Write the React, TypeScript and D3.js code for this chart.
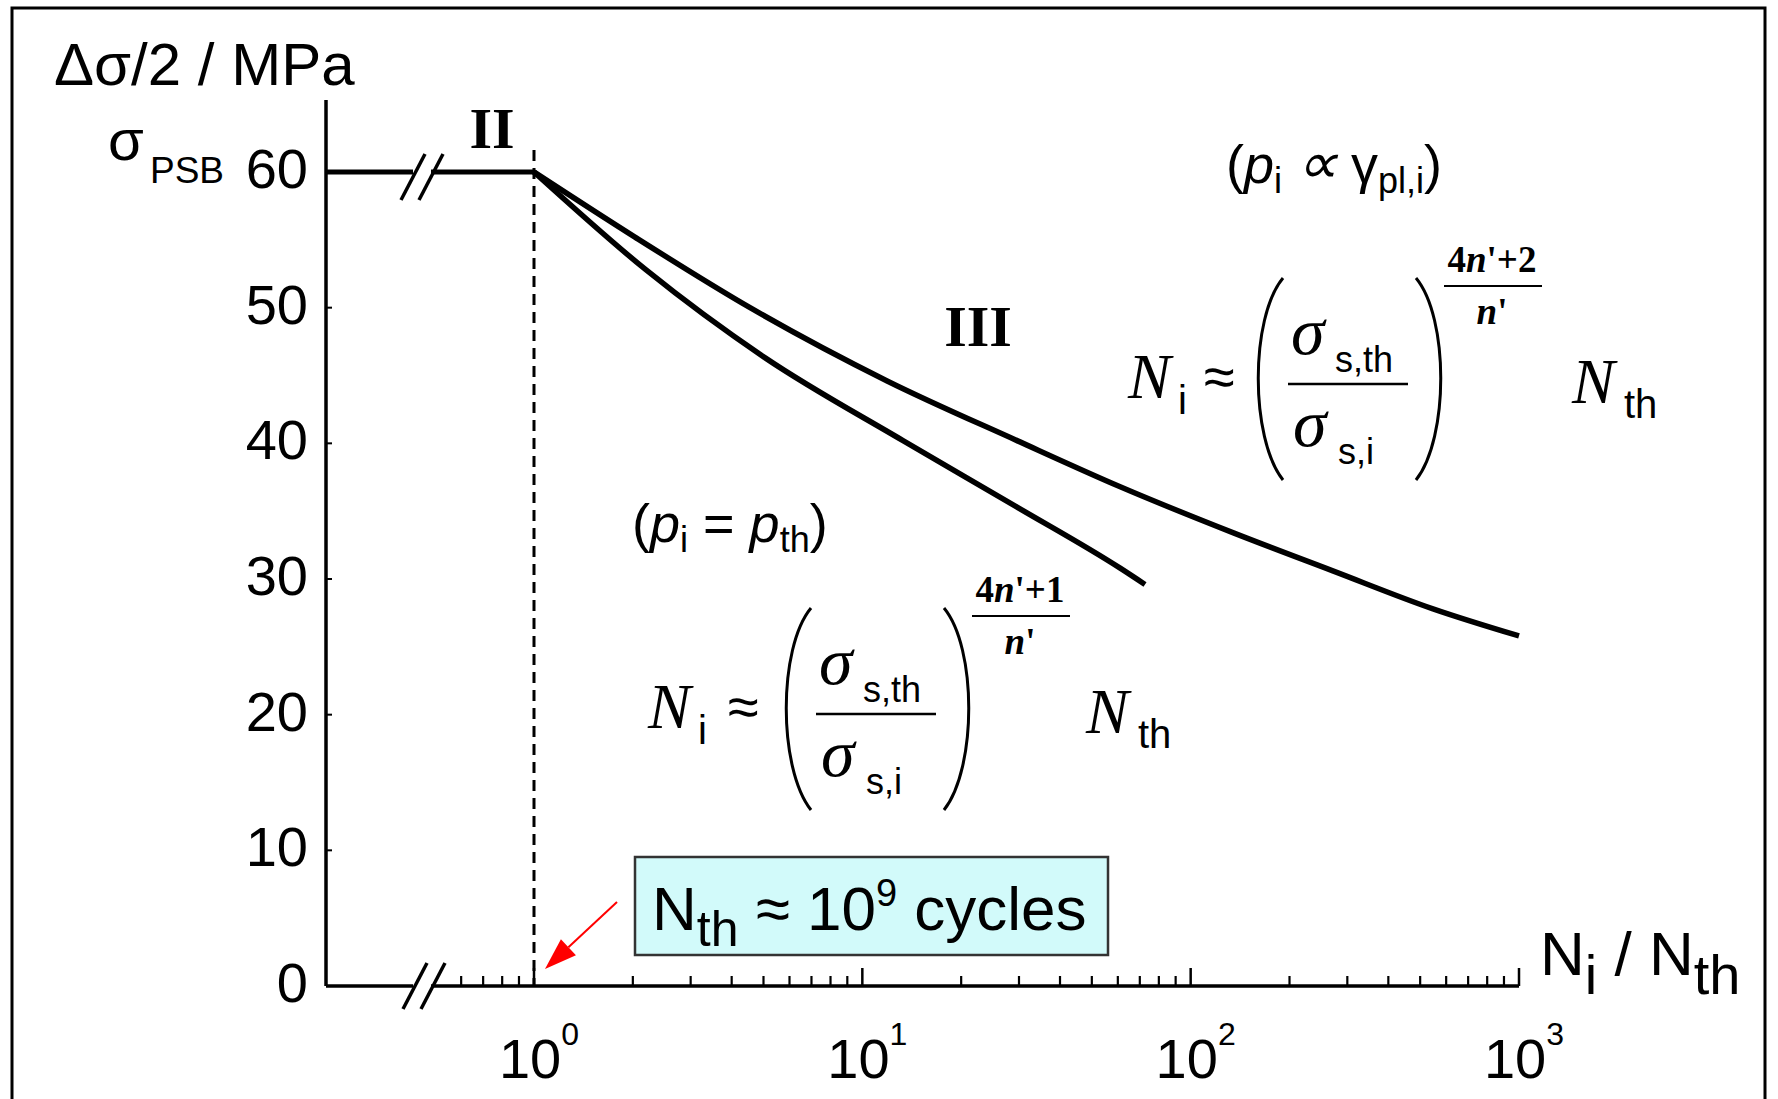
import * as d3 from 'd3';

const W = 1778;
const H = 1099;

const SANS = "'Liberation Sans', Arial, Helvetica, sans-serif";
const SERIF = "'Liberation Serif', 'Times New Roman', Times, serif";

// stress amplitude axis (MPa)
const stressTicks = [0, 10, 20, 30, 40, 50, 60];
const plateauStress = 60;

// N_i / N_th axis
const decades = [1, 10, 100, 1000];
const decadeExponents = ['0', '1', '2', '3'];
const preBreakTicks = [0.6, 0.7, 0.8, 0.9];

// curve for p_i ∝ γpl,i, exponent (4n'+2)/n'
const upperN = [1, 2.03, 4.55, 11.9, 29.6, 61, 135, 271, 547, 1000];
const upperStress = [60, 55.2, 50.0, 44.6, 40.2, 36.8, 33.4, 30.6, 27.8, 25.8];

// curve for p_i = p_th, exponent (4n'+1)/n'
const lowerN = [1, 2.19, 5.06, 13.3, 29.6, 61, 72.6];
const lowerStress = [60, 52.8, 46.3, 40.2, 35.3, 30.8, 29.6];

const x = d3.scaleLog().domain([1, 1000]).range([534, 1519]);
const y = d3.scaleLinear().domain([0, 60]).range([986, 172]);
const axisX = 326;
const axisTop = 100;
const breakX = 422;

const line = d3
  .line<[number, number]>()
  .x((d) => x(d[0]))
  .y((d) => y(d[1]))
  .curve(d3.curveMonotoneX);

function BreakMark({ cx, cy }: { cx: number; cy: number }) {
  return (
    <g stroke="black" strokeWidth={3.5}>
      {[-9, 9].map((o) => (
        <line key={o} x1={cx + o - 12} y1={cy + 23} x2={cx + o + 12} y2={cy - 23} />
      ))}
    </g>
  );
}

function Formula({
  x: fx,
  y: fy,
  top,
  shift = 0,
  nthShift = 0,
}: {
  x: number;
  y: number;
  top: string;
  shift?: number;
  nthShift?: number;
}) {
  const s = shift;
  return (
    <g transform={`translate(${fx},${fy})`}>
      <text fontFamily={SERIF} fontStyle="italic" fontSize={64} x={0} y={0}>N</text>
      <text fontFamily={SANS} fontSize={40} x={50} y={16}>i</text>
      <text fontFamily={SANS} fontSize={56} x={76 + s / 2} y={-2}>≈</text>
      <path d={`M${155 + s},-120 C${122 + s},-80 ${122 + s},40 ${155 + s},82`} fill="none" stroke="black" strokeWidth={3} />
      <text fontFamily={SERIF} fontStyle="italic" fontSize={68} x={163 + s} y={-44}>σ</text>
      <text fontFamily={SANS} fontSize={36} x={207 + s} y={-26}>s,th</text>
      <line x1={160 + s} x2={280 + s} y1={-14} y2={-14} stroke="black" strokeWidth={2.5} />
      <text fontFamily={SERIF} fontStyle="italic" fontSize={68} x={165 + s} y={48}>σ</text>
      <text fontFamily={SANS} fontSize={36} x={210 + s} y={66}>s,i</text>
      <path d={`M${288 + s},-120 C${321 + s},-80 ${321 + s},40 ${288 + s},82`} fill="none" stroke="black" strokeWidth={3} />
      <text fontFamily={SERIF} fontWeight="bold" fontSize={37} x={364 + s} y={-126} textAnchor="middle">
        4<tspan fontStyle="italic">n</tspan>'+{top}
      </text>
      <line x1={316 + s} x2={414 + s} y1={-112} y2={-112} stroke="black" strokeWidth={2} />
      <text fontFamily={SERIF} fontWeight="bold" fontSize={37} x={364 + s} y={-74} textAnchor="middle">
        <tspan fontStyle="italic">n</tspan>'
      </text>
      <text fontFamily={SERIF} fontStyle="italic" fontSize={64} x={444 + nthShift} y={5}>N</text>
      <text fontFamily={SANS} fontSize={40} x={496 + nthShift} y={20}>th</text>
    </g>
  );
}

function Arrow({ x1, y1, x2, y2 }: { x1: number; y1: number; x2: number; y2: number }) {
  const dx = x2 - x1;
  const dy = y2 - y1;
  const len = Math.hypot(dx, dy);
  const ux = dx / len;
  const uy = dy / len;
  const hl = 32;
  const hw = 11;
  const bx = x2 - ux * hl;
  const by = y2 - uy * hl;
  const pts = `${x2},${y2} ${bx - uy * hw},${by + ux * hw} ${bx + uy * hw},${by - ux * hw}`;
  return (
    <g>
      <line x1={x1} y1={y1} x2={bx} y2={by} stroke="red" strokeWidth={2} />
      <polygon points={pts} fill="red" />
    </g>
  );
}

export default function App() {
  const y0 = y(0);
  const minorTicks = x.ticks().filter((t) => !decades.includes(t));
  const upper = upperN.map((n, i) => [n, upperStress[i]] as [number, number]);
  const lower = lowerN.map((n, i) => [n, lowerStress[i]] as [number, number]);

  return (
    <svg
      width={W}
      height={H}
      viewBox={`0 0 ${W} ${H}`}
      style={{ position: 'absolute', left: 0, top: 0, background: 'white' }}
    >
      <rect x={12} y={8} width={1753} height={1110} fill="white" stroke="black" strokeWidth={3} />

      {/* y axis */}
      <text fontFamily={SANS} fontSize={60} x={54} y={85}>Δσ/2 / MPa</text>
      <line x1={axisX} x2={axisX} y1={axisTop} y2={y0} stroke="black" strokeWidth={3.5} />
      {stressTicks.map((t) => (
        <g key={t}>
          <text fontFamily={SANS} fontSize={56} x={308} y={y(t) + 16} textAnchor="end">{t}</text>
          {t > 0 && t < 60 && <line x1={axisX} x2={axisX + 6} y1={y(t)} y2={y(t)} stroke="black" strokeWidth={2} />}
        </g>
      ))}
      <text fontFamily={SANS} fontSize={58} x={108} y={160}>σ</text>
      <text fontFamily={SANS} fontSize={37} x={150} y={183}>PSB</text>

      {/* plateau (stage II) with axis break */}
      <line x1={axisX} x2={breakX - 9} y1={y(plateauStress)} y2={y(plateauStress)} stroke="black" strokeWidth={5} />
      <line x1={breakX + 9} x2={x(1)} y1={y(plateauStress)} y2={y(plateauStress)} stroke="black" strokeWidth={5} />
      <BreakMark cx={breakX} cy={y(plateauStress) + 5} />

      {/* x axis */}
      <line x1={axisX} x2={breakX - 9} y1={y0} y2={y0} stroke="black" strokeWidth={3.5} />
      <line x1={breakX + 9} x2={x(1000)} y1={y0} y2={y0} stroke="black" strokeWidth={3.5} />
      <BreakMark cx={breakX + 2} cy={y0} />
      {decades.map((d) => (
        <line key={d} x1={x(d)} x2={x(d)} y1={y0} y2={y0 - 18} stroke="black" strokeWidth={2.5} />
      ))}
      {[...preBreakTicks, ...minorTicks].map((t) => (
        <line key={t} x1={x(t)} x2={x(t)} y1={y0} y2={y0 - 10} stroke="black" strokeWidth={2.2} />
      ))}
      {decades.map((d, i) => (
        <text key={d} fontFamily={SANS} fontSize={56} x={x(d) + 5} y={1078} textAnchor="middle">
          10<tspan fontSize={32} dy={-33}>{decadeExponents[i]}</tspan>
        </text>
      ))}
      <text fontFamily={SANS} fontSize={62} x={1540} y={975}>
        N<tspan fontSize={56} dy={19}>i</tspan>
        <tspan dy={-19}> / N</tspan>
        <tspan fontSize={56} dy={19}>th</tspan>
      </text>

      {/* N = N_th threshold */}
      <line x1={x(1)} x2={x(1)} y1={150} y2={y0} stroke="black" strokeWidth={3} strokeDasharray="11 7" />

      {/* curves */}
      <path d={line(upper) ?? ''} fill="none" stroke="black" strokeWidth={5.5} strokeLinejoin="round" />
      <path d={line(lower) ?? ''} fill="none" stroke="black" strokeWidth={5.5} strokeLinejoin="round" />

      {/* stage labels */}
      <text fontFamily={SERIF} fontWeight="bold" fontSize={58} x={492} y={148} textAnchor="middle">II</text>
      <text fontFamily={SERIF} fontWeight="bold" fontSize={58} x={978} y={346} textAnchor="middle">III</text>

      {/* annotations */}
      <text fontFamily={SANS} fontSize={54} x={1226} y={183}>
        (<tspan fontStyle="italic">p</tspan>
        <tspan fontSize={36} dy={10}>i</tspan>
        <tspan dy={-10} dx={14} fontSize={58} fontStyle="italic">∝</tspan>
        <tspan dx={14}>γ</tspan>
        <tspan fontSize={36} dy={10}>pl,i</tspan>
        <tspan dy={-10}>)</tspan>
      </text>
      <Formula x={1128} y={398} top="2" />

      <text fontFamily={SANS} fontSize={54} x={632} y={542}>
        (<tspan fontStyle="italic">p</tspan>
        <tspan fontSize={36} dy={10}>i</tspan>
        <tspan dy={-10}> = </tspan>
        <tspan fontStyle="italic">p</tspan>
        <tspan fontSize={36} dy={10}>th</tspan>
        <tspan dy={-10}>)</tspan>
      </text>
      <Formula x={648} y={728} top="1" shift={8} nthShift={-6} />

      {/* threshold box */}
      <rect x={635} y={857} width={473} height={98} fill="#d2fafa" stroke="#333" strokeWidth={2.5} />
      <text fontFamily={SANS} fontSize={62} x={652} y={930}>
        N<tspan fontSize={50} dy={16}>th</tspan>
        <tspan dy={-16}> ≈ 10</tspan>
        <tspan fontSize={38} dy={-24}>9</tspan>
        <tspan dy={24}> cycles</tspan>
      </text>
      <Arrow x1={617} y1={902} x2={545} y2={969} />
    </svg>
  );
}
